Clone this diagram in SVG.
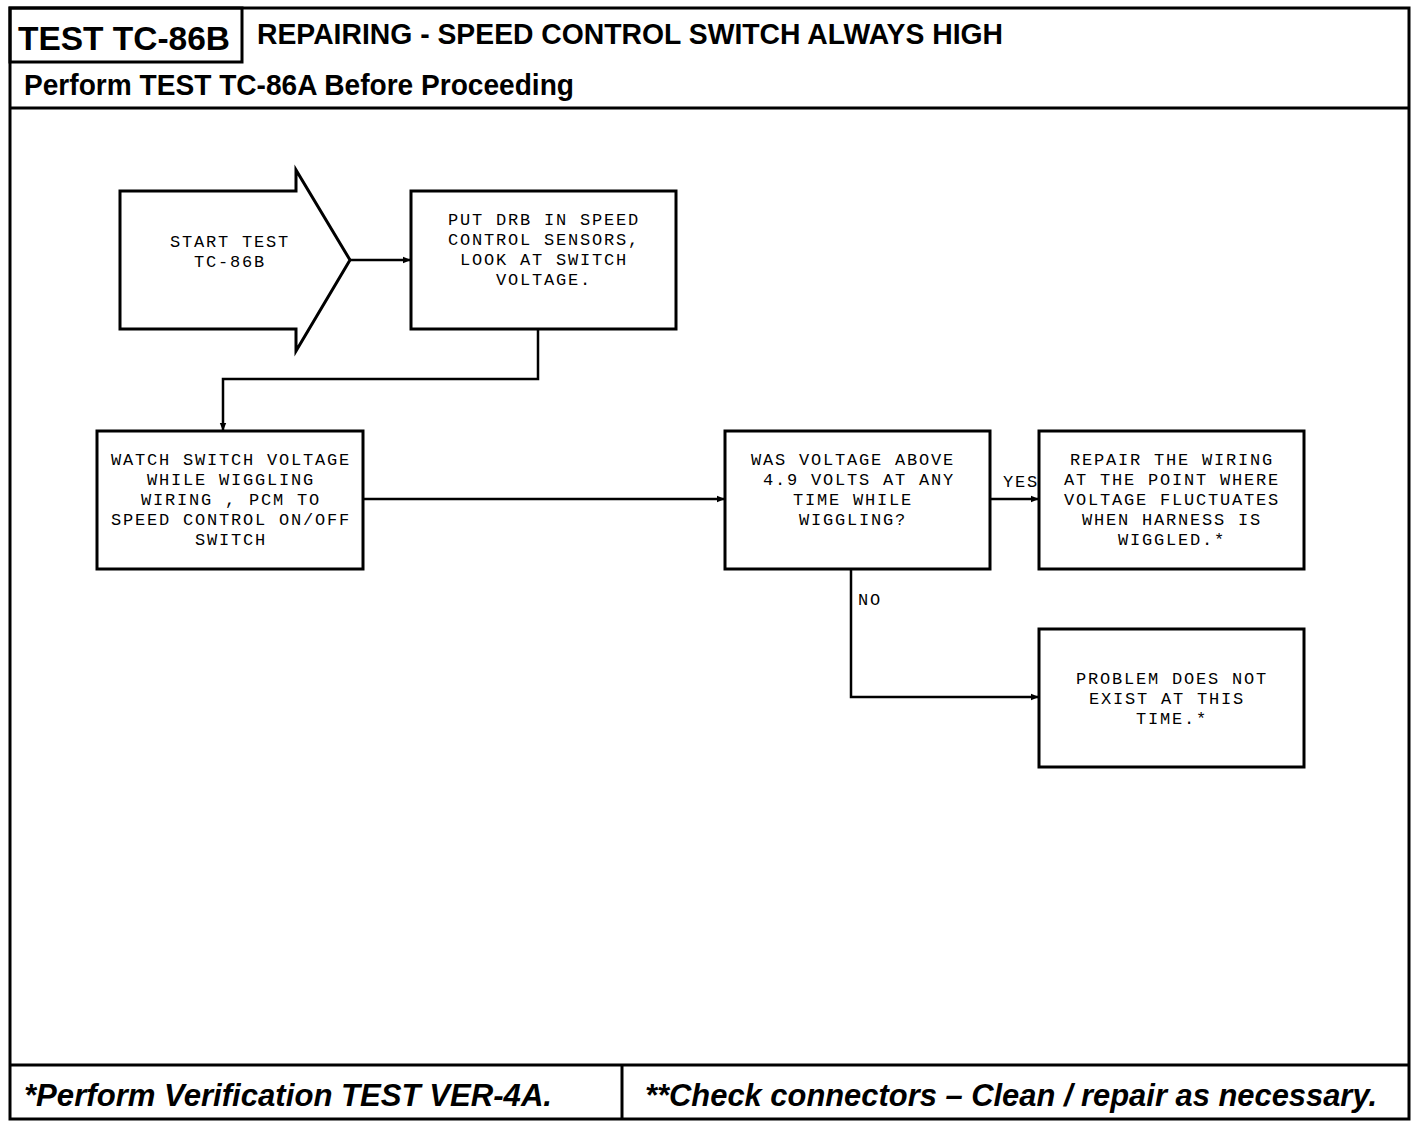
<svg xmlns="http://www.w3.org/2000/svg" width="1424" height="1128" viewBox="0 0 1424 1128">
<style>
.frame{fill:none;stroke:#000;stroke-width:3}
.box{fill:#fff;stroke:#000;stroke-width:3}
.conn{fill:none;stroke:#000;stroke-width:2.5}
.t{font-family:"Liberation Mono","DejaVu Sans Mono",monospace;font-size:17px;letter-spacing:1.8px;fill:#000;text-anchor:middle}
.lbl{font-family:"Liberation Mono","DejaVu Sans Mono",monospace;font-size:17px;letter-spacing:1.8px;fill:#000}
.hb{font-family:"Liberation Sans",Arial,sans-serif;font-weight:bold;fill:#000}
.fi{font-family:"Liberation Sans",Arial,sans-serif;font-weight:bold;font-style:italic;fill:#000}
</style>
<defs>
<marker id="ah" viewBox="0 0 10 10" refX="10" refY="5" markerWidth="10" markerHeight="8" markerUnits="userSpaceOnUse" orient="auto">
<path d="M0,1 L10,5 L0,9 z" fill="#000"/>
</marker>
</defs>
<rect width="1424" height="1128" fill="#fff"/>
<g id="frame">
<rect class="frame" x="10" y="8" width="1399" height="1111"/>
<rect class="frame" x="10" y="8" width="232" height="54"/>
<line class="frame" x1="10" y1="108" x2="1409" y2="108"/>
<line class="frame" x1="10" y1="1065" x2="1409" y2="1065"/>
<line class="frame" x1="622" y1="1065" x2="622" y2="1119"/>
<text class="hb" x="18" y="50" font-size="33" textLength="212" lengthAdjust="spacingAndGlyphs">TEST TC-86B</text>
<text class="hb" x="257" y="44" font-size="29" textLength="746" lengthAdjust="spacingAndGlyphs">REPAIRING - SPEED CONTROL SWITCH ALWAYS HIGH</text>
<text class="hb" x="24" y="95" font-size="29" textLength="550" lengthAdjust="spacingAndGlyphs">Perform TEST TC-86A Before Proceeding</text>
<text class="fi" x="24" y="1106" font-size="32" textLength="528" lengthAdjust="spacingAndGlyphs">*Perform  Verification  TEST  VER-4A.</text>
<text class="fi" x="645" y="1106" font-size="32" textLength="732" lengthAdjust="spacingAndGlyphs">**Check  connectors  –  Clean / repair  as  necessary.</text>
</g>
<g id="connectors">
<line class="conn" x1="350" y1="260" x2="411" y2="260" marker-end="url(#ah)"/>
<polyline class="conn" points="538,329 538,379 223,379 223,431" marker-end="url(#ah)"/>
<line class="conn" x1="363" y1="499" x2="725" y2="499" marker-end="url(#ah)"/>
<line class="conn" x1="990" y1="499" x2="1039" y2="499" marker-end="url(#ah)"/>
<polyline class="conn" points="851,569 851,697 1039,697" marker-end="url(#ah)"/>
<text class="lbl" x="1003" y="487">YES</text>
<text class="lbl" x="858" y="605">NO</text>
</g>
<g id="start">
<polygon class="box" points="120,191 296,191 296,170 350,260 296,351 296,329 120,329"/>
<text class="t" x="230" y="247">START TEST</text>
<text class="t" x="230" y="267">TC-86B</text>
</g>
<g id="put-drb">
<rect class="box" x="411" y="191" width="265" height="138"/>
<text class="t" x="544" y="225">PUT DRB IN SPEED</text>
<text class="t" x="544" y="245">CONTROL SENSORS,</text>
<text class="t" x="544" y="265">LOOK AT SWITCH</text>
<text class="t" x="544" y="285">VOLTAGE.</text>
</g>
<g id="watch">
<rect class="box" x="97" y="431" width="266" height="138"/>
<text class="t" x="231" y="465">WATCH SWITCH VOLTAGE</text>
<text class="t" x="231" y="485">WHILE WIGGLING</text>
<text class="t" x="231" y="505">WIRING , PCM TO</text>
<text class="t" x="231" y="525">SPEED CONTROL ON/OFF</text>
<text class="t" x="231" y="545">SWITCH</text>
</g>
<g id="was-voltage">
<rect class="box" x="725" y="431" width="265" height="138"/>
<text class="t" x="853" y="465">WAS VOLTAGE ABOVE</text>
<text class="t" x="859" y="485">4.9 VOLTS AT ANY</text>
<text class="t" x="853" y="505">TIME WHILE</text>
<text class="t" x="853" y="525">WIGGLING?</text>
</g>
<g id="repair">
<rect class="box" x="1039" y="431" width="265" height="138"/>
<text class="t" x="1172" y="465">REPAIR THE WIRING</text>
<text class="t" x="1172" y="485">AT THE POINT WHERE</text>
<text class="t" x="1172" y="505">VOLTAGE FLUCTUATES</text>
<text class="t" x="1172" y="525">WHEN HARNESS IS</text>
<text class="t" x="1172" y="545">WIGGLED.*</text>
</g>
<g id="problem">
<rect class="box" x="1039" y="629" width="265" height="138"/>
<text class="t" x="1172" y="684">PROBLEM DOES NOT</text>
<text class="t" x="1167" y="704">EXIST AT THIS</text>
<text class="t" x="1172" y="724">TIME.*</text>
</g>
</svg>
